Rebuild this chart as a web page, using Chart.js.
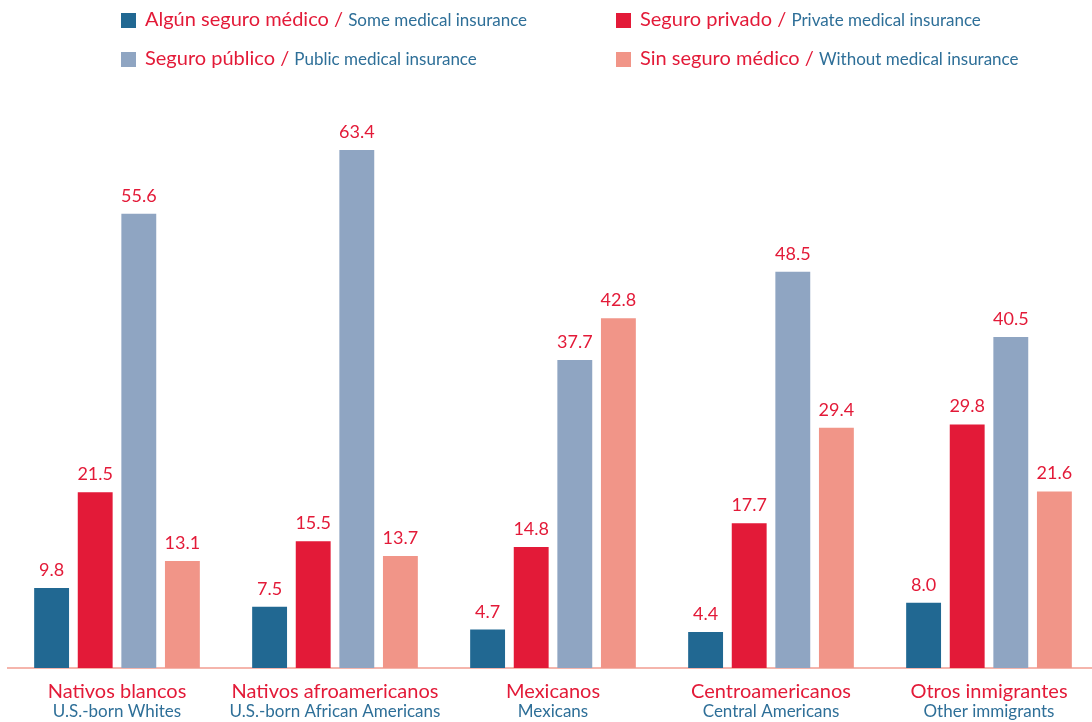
<!DOCTYPE html>
<html><head><meta charset="utf-8">
<script src="https://cdn.jsdelivr.net/npm/chart.js@4/dist/chart.umd.min.js"></script>
<style>html,body{margin:0;padding:0;background:#fff;overflow:hidden;}#wrap{width:1092px;height:722px;position:relative;overflow:hidden;}canvas{position:absolute;left:0;top:0;}</style>
</head><body><div id="wrap"><canvas id="c" width="1098" height="722"></canvas></div>
<script>
const categoriesEs = ["Nativos blancos","Nativos afroamericanos","Mexicanos","Centroamericanos","Otros inmigrantes"];
const categoriesEn = ["U.S.-born Whites","U.S.-born African Americans","Mexicans","Central Americans","Other immigrants"];
const seriesEs = ["Algún seguro médico","Seguro privado","Seguro público","Sin seguro médico"];
const seriesEn = ["Some medical insurance","Private medical insurance","Public medical insurance","Without medical insurance"];
const someInsurance = [9.8, 7.5, 4.7, 4.4, 8.0];
const privateInsurance = [21.5, 15.5, 14.8, 17.7, 29.8];
const publicInsurance = [55.6, 63.4, 37.7, 48.5, 40.5];
const withoutInsurance = [13.1, 13.7, 42.8, 29.4, 21.6];
const colors = ["#216892", "#e31a38", "#8fa5c2", "#f19588"];
const RED = "#e31a38", BLUE = "#2e6f98";
const FONT = "Lato, 'Open Sans', sans-serif";

const legendPlugin = {
  id: 'customLegend',
  afterDraw(chart) {
    const ctx = chart.ctx;
    const pos = [[121, 20], [616, 20], [121, 59], [616, 59]];
    chart.data.datasets.forEach((ds, i) => {
      const [x, y] = pos[i];
      ctx.save();
      ctx.fillStyle = ds.backgroundColor;
      ctx.fillRect(x, y - 7, 15, 15);
      ctx.textBaseline = 'middle';
      ctx.textAlign = 'left';
      ctx.font = "20px " + FONT;
      ctx.fillStyle = RED;
      const es = seriesEs[i] + " / ";
      ctx.fillText(es, x + 24, y);
      const w = ctx.measureText(es).width;
      ctx.font = "17px " + FONT;
      ctx.fillStyle = BLUE;
      ctx.fillText(seriesEn[i], x + 24 + w, y + 1);
      ctx.restore();
    });
    // English category labels under the Spanish tick labels
    const xs = chart.scales.x;
    ctx.save();
    ctx.font = "17px " + FONT;
    ctx.fillStyle = BLUE;
    ctx.textAlign = 'center';
    ctx.textBaseline = 'middle';
    categoriesEn.forEach((t, i) => {
      ctx.fillText(t, xs.getPixelForValue(i), chart.chartArea.bottom + 44);
    });
    ctx.restore();
  }
};
const valuePlugin = {
  id: 'values',
  afterDatasetsDraw(chart) {
    const ctx = chart.ctx;
    chart.data.datasets.forEach((ds, i) => {
      const meta = chart.getDatasetMeta(i);
      meta.data.forEach((bar, j) => {
        ctx.save();
        ctx.font = "18px " + FONT;
        ctx.fillStyle = RED;
        ctx.textAlign = 'center';
        ctx.textBaseline = 'alphabetic';
        ctx.fillText(ds.data[j].toFixed(1), bar.x, bar.y - 12);
        ctx.restore();
      });
    });
  }
};

new Chart(document.getElementById('c'), {
  type: 'bar',
  data: {
    labels: categoriesEs,
    datasets: [
      {label: seriesEs[0], data: someInsurance, backgroundColor: colors[0]},
      {label: seriesEs[1], data: privateInsurance, backgroundColor: colors[1]},
      {label: seriesEs[2], data: publicInsurance, backgroundColor: colors[2]},
      {label: seriesEs[3], data: withoutInsurance, backgroundColor: colors[3]}
    ]
  },
  options: {
    responsive: false,
    animation: false,
    layout: {padding: {top: 96, left: 8, right: 0, bottom: 7}},
    plugins: {legend: {display: false}, tooltip: {enabled: false}},
    datasets: {bar: {categoryPercentage: 0.8, barPercentage: 0.8}},
    scales: {
      x: {
        position: 'bottom',
        grid: {display: false, drawTicks: false},
        border: {display: true, color: '#f5b5ac', width: 2},
        ticks: {color: RED, font: {family: FONT, size: 20, lineHeight: 1.15}, padding: 12, maxRotation: 0, autoSkip: false}
      },
      y: {
        display: false,
        min: 0, max: 70
      }
    }
  },
  plugins: [legendPlugin, valuePlugin]
});
</script></body></html>
